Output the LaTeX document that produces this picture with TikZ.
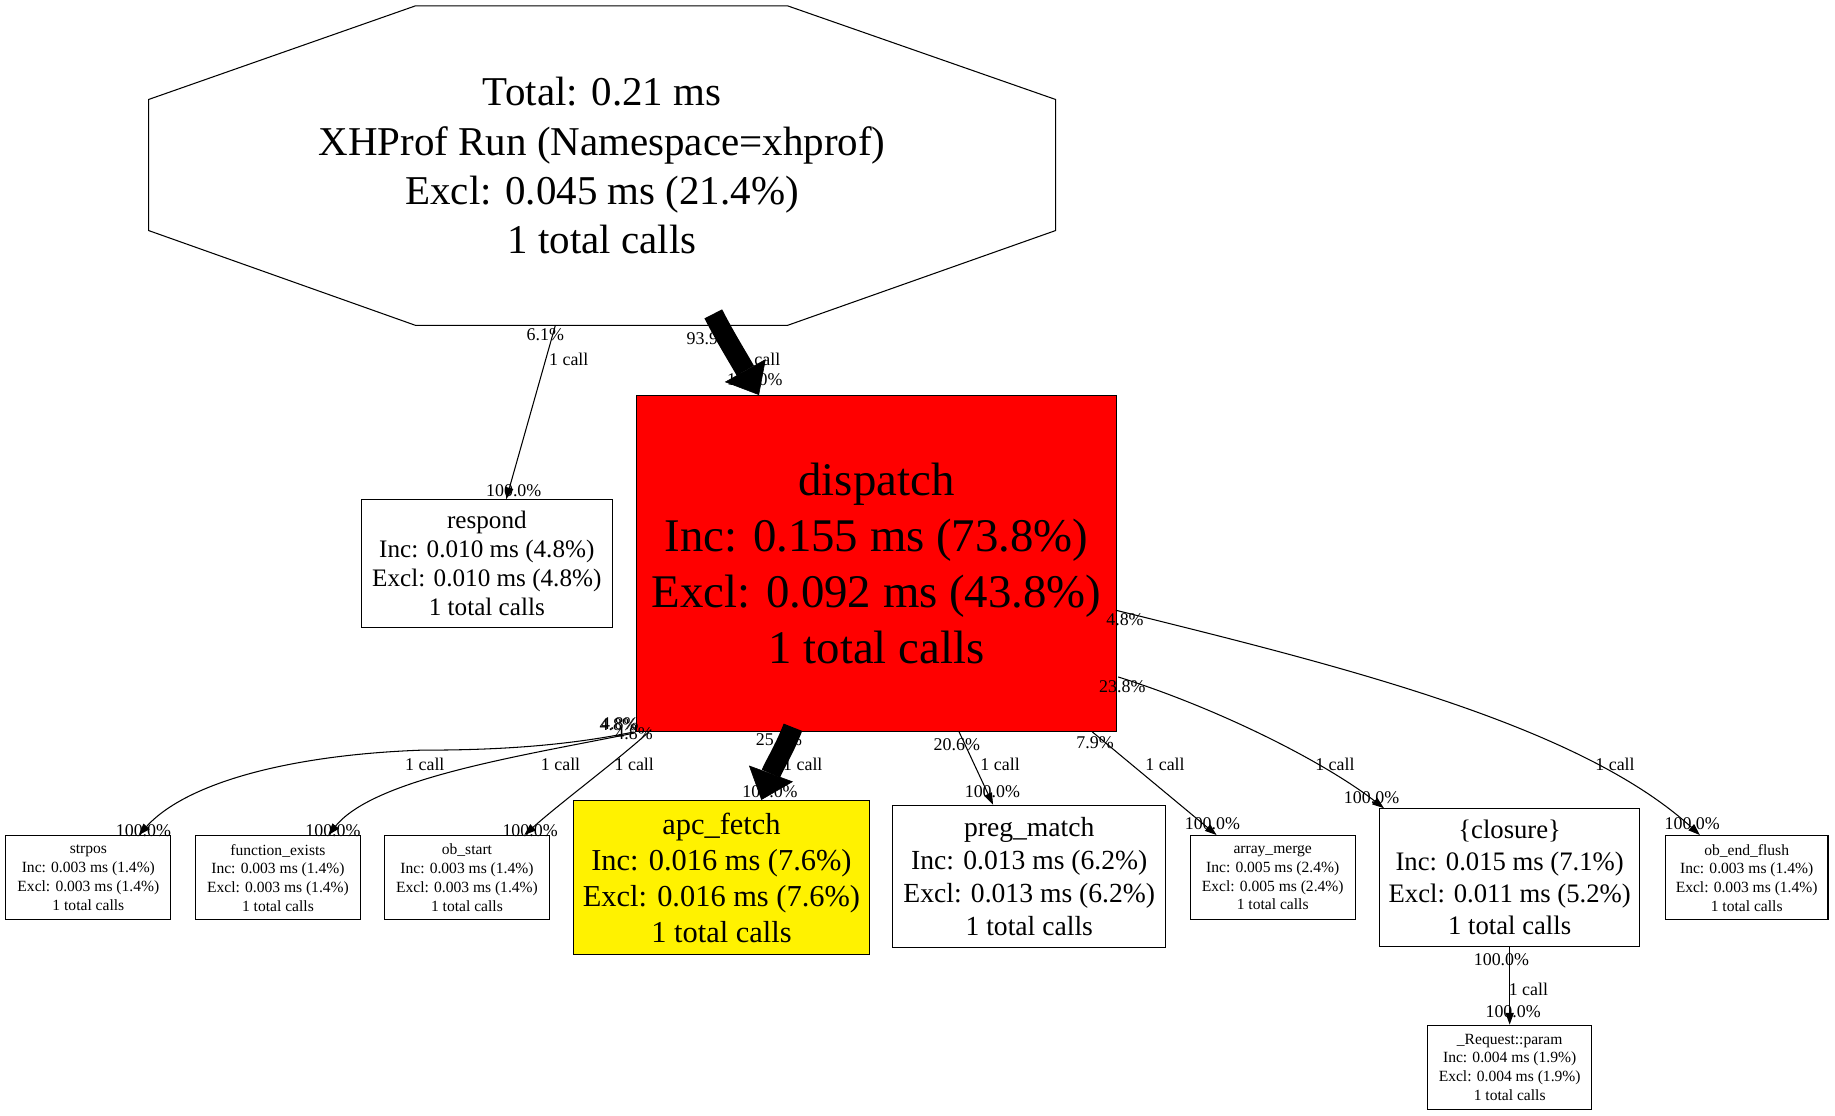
\documentclass[tikz,border=0pt]{standalone}
\usepackage{fontspec}
\setmainfont{Liberation Serif}
\usetikzlibrary{arrows.meta,calc}
\newcommand\setfs[2]{\fontsize{#1}{#2}\selectfont}
\tikzset{
  box/.style={draw, line width=0.9pt, inner sep=0pt, align=center, fill=white},
  lbl/.style={font=\setfs{15.3}{18}, inner sep=0pt, text height=10pt, text depth=0pt},
  edge/.style={line width=0.9pt, -{Triangle[length=10pt,width=7pt]}},
  fat/.style={line width=17pt, -{Triangle[length=24pt,width=40pt,line width=0.5pt]}},
}
\begin{document}
\begin{tikzpicture}[x=1pt,y=-1pt]
\useasboundingbox (0,0) rectangle (1568,953);
\fill[white] (0,0) rectangle (1568,953);

% root octagon
\draw[line width=0.9pt] (355,5) -- (673,5) -- (902,85) -- (902,197) -- (673,278) -- (355,278) -- (127,197) -- (127,85) -- cycle;
\node[inner sep=0pt, align=center, minimum width=775, minimum height=273, font=\setfs{35}{42}] (root) at (514.5,141.5)
  {Total: 0.21 ms\\XHProf Run (Namespace=xhprof)\\Excl: 0.045 ms (21.4\%)\\1 total calls};

% nodes
\node[box, fill=red, minimum width=410, minimum height=287, font=\setfs{40}{48}] (dispatch) at (749,481.5)
  {dispatch\\Inc: 0.155 ms (73.8\%)\\Excl: 0.092 ms (43.8\%)\\1 total calls};
\node[box, minimum width=214, minimum height=109, font=\setfs{21.5}{25}] (respond) at (416,481.5)
  {respond\\Inc: 0.010 ms (4.8\%)\\Excl: 0.010 ms (4.8\%)\\1 total calls};
\node[box, minimum width=141, minimum height=72, font=\setfs{13.3}{16}] (strpos) at (75.5,750)
  {strpos\\Inc: 0.003 ms (1.4\%)\\Excl: 0.003 ms (1.4\%)\\1 total calls};
\node[box, minimum width=141, minimum height=72, font=\setfs{13.3}{16}] (fe) at (237.5,750)
  {function\_exists\\Inc: 0.003 ms (1.4\%)\\Excl: 0.003 ms (1.4\%)\\1 total calls};
\node[box, minimum width=141, minimum height=72, font=\setfs{13.3}{16}] (obs) at (399,750)
  {ob\_start\\Inc: 0.003 ms (1.4\%)\\Excl: 0.003 ms (1.4\%)\\1 total calls};
\node[box, fill=yellow, minimum width=253, minimum height=132, font=\setfs{26}{30.7}] (apc) at (616.5,750)
  {apc\_fetch\\Inc: 0.016 ms (7.6\%)\\Excl: 0.016 ms (7.6\%)\\1 total calls};
\node[box, minimum width=233, minimum height=122, font=\setfs{23.6}{28.3}] (preg) at (879.5,749)
  {preg\_match\\Inc: 0.013 ms (6.2\%)\\Excl: 0.013 ms (6.2\%)\\1 total calls};
\node[box, minimum width=141, minimum height=72, font=\setfs{13.3}{16}] (arr) at (1087.5,750)
  {array\_merge\\Inc: 0.005 ms (2.4\%)\\Excl: 0.005 ms (2.4\%)\\1 total calls};
\node[box, minimum width=222, minimum height=118, font=\setfs{22.8}{27.3}] (clos) at (1290,750)
  {\{closure\}\\Inc: 0.015 ms (7.1\%)\\Excl: 0.011 ms (5.2\%)\\1 total calls};
\node[box, minimum width=139, minimum height=72, font=\setfs{13.3}{16}] (flush) at (1492.5,750)
  {ob\_end\_flush\\Inc: 0.003 ms (1.4\%)\\Excl: 0.003 ms (1.4\%)\\1 total calls};
\node[box, minimum width=140, minimum height=72, font=\setfs{13.3}{16}] (param) at (1290,912)
  {\_Request::param\\Inc: 0.004 ms (1.9\%)\\Excl: 0.004 ms (1.9\%)\\1 total calls};

% edge labels
\node[lbl] (l1) at (466,286) {6.1\%};
\node[lbl] (l2) at (486,307.6) {1 call};
\node[lbl] (l3) at (439,419) {100.0\%};
\node[lbl] (l4) at (606.5,289) {93.9\%};
\node[lbl] (l5) at (650,307.6) {1 call};
\node[lbl] (l6) at (645,324.7) {100.0\%};
\node[lbl] (l7) at (528.4,619.5) {4.8\%};
\node[lbl] (l8) at (529.6,618.6) {4.8\%};
\node[lbl] (l9) at (541.8,627) {4.8\%};
\node[lbl] (l10) at (363,653.5) {1 call};
\node[lbl] (l11) at (479,653.5) {1 call};
\node[lbl] (l12) at (542,653.5) {1 call};
\node[lbl] (l13) at (122.6,710) {100.0\%};
\node[lbl] (l14) at (284.5,710) {100.0\%};
\node[lbl] (l15) at (453,710) {100.0\%};
\node[lbl] (l16) at (665.6,632.3) {25.4\%};
\node[lbl] (l17) at (686,653.5) {1 call};
\node[lbl] (l18) at (658,676.5) {100.0\%};
\node[lbl] (l19) at (817.6,636.6) {20.6\%};
\node[lbl] (l20) at (854.6,653.5) {1 call};
\node[lbl] (l21) at (848,676.5) {100.0\%};
\node[lbl] (l22) at (935.7,635) {7.9\%};
\node[lbl] (l23) at (995.5,653.7) {1 call};
\node[lbl] (l24) at (1036,703.5) {100.0\%};
\node[lbl] (l25) at (959,586.8) {23.8\%};
\node[lbl] (l26) at (1140.7,653.7) {1 call};
\node[lbl] (l27) at (1172,681.3) {100.0\%};
\node[lbl] (l28) at (961.3,529.2) {4.8\%};
\node[lbl] (l29) at (1380,653.7) {1 call};
\node[lbl] (l30) at (1446,703.5) {100.0\%};
\node[lbl] (l31) at (1283,820.3) {100.0\%};
\node[lbl] (l32) at (1306,846) {1 call};
\node[lbl] (l33) at (1293,864.5) {100.0\%};

% thin edges
\draw[edge] ($(root.south)+(-40,0)$) -- ($(respond.north west)+(124,0)$);
\draw[edge] ($(dispatch.south west)+(-2,0)$) .. controls (480,638) and (420,641) .. (360,641)
  .. controls (250,645) and (160,668) .. ($(strpos.north west)+(114,0)$);
\draw[edge] ($(dispatch.south west)+(-2,1)$) .. controls (445,646) and (320,665) .. ($(fe.north west)+(114,0)$);
\draw[edge] ($(dispatch.south west)+(13,-2)$) .. controls (530,648) and (480,685) .. ($(obs.north west)+(120,0)$);
\draw[edge] ($(dispatch.south west)+(276,0)$) -- ($(preg.north west)+(86,0)$);
\draw[edge] ($(dispatch.south east)+(-21,0)$) -- ($(arr.north west)+(23,0)$);
\draw[edge] ($(dispatch.south east)+(1,-47)$) .. controls (1040,605) and (1130,650) .. ($(clos.north west)+(4,0)$);
\draw[edge] ($(dispatch.south east)+(-1,-104)$) .. controls (1150,570) and (1350,620) .. ($(flush.north west)+(30,0)$);
\draw[edge] (clos.south) -- (param.north);

% thick edges
\draw[fat] ($(root.south)+(95,-10)$) .. controls (619,287) and (632,308) .. ($(dispatch.north west)+(105,0)$);
\draw[fat] ($(dispatch.south west)+(134,-4)$) .. controls (670,641) and (661,655) .. ($(apc.north west)+(161,0)$);
\end{tikzpicture}
\end{document}
